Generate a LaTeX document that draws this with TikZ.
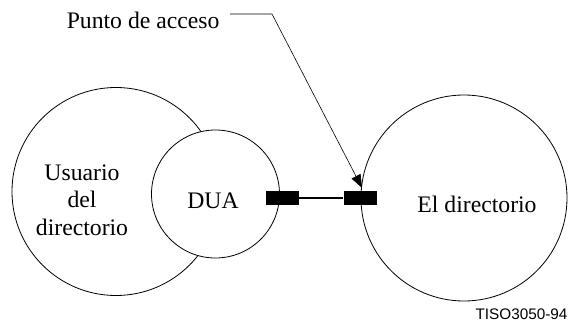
\documentclass[tikz,border=0pt]{standalone}
\usepackage{fontspec}
\setmainfont{Liberation Serif}
\newfontfamily\figsans{Liberation Sans}
\usetikzlibrary{arrows.meta}
\begin{document}
\begin{tikzpicture}[x=1pt, y=1pt,
    circulo/.style={draw, circle, line width=.8pt, inner sep=0pt},
    puerto/.style={fill=black, inner sep=0pt, minimum width=33pt, minimum height=14pt},
    texto/.style={font=\fontsize{23.7}{27.5}\selectfont, align=center}]
    \useasboundingbox (0,0) rectangle (571,325);
    \node [circulo, minimum size=208pt] (usuario) at (116,133.5) {};
    \node [circulo, fill=white, minimum size=128pt] (dua) at (215.5,131) {};
    \node [circulo, minimum size=206pt] (directorio) at (464,127) {};
    \node [texto] (tusuario) at (82,125) {Usuario\\del\\directorio};
    \node [texto] (tdua) at (213,124) {DUA};
    \node [texto] (tdirectorio) at (477,121) {El directorio};
    \node [puerto] (pdua) at (282,127) {};
    \node [puerto] (pdir) at (360,127) {};
    \draw [line width=1.2pt] (pdua) -- (pdir);
    \node [texto, anchor=base east] (acceso) at (223,297) {Punto de acceso};
    \coordinate (codo) at (272,311);
    \draw [line width=.6pt, -{Triangle[length=13pt, width=10pt]}]
        (acceso.east |- codo) ++(7,0) -- (codo) -- ([xshift=2pt, yshift=3pt]pdir.north);
    \node [font=\figsans\fontsize{15.3}{18}\selectfont, anchor=south east] (codigo) at (571,2) {TISO3050-94};
\end{tikzpicture}
\end{document}
